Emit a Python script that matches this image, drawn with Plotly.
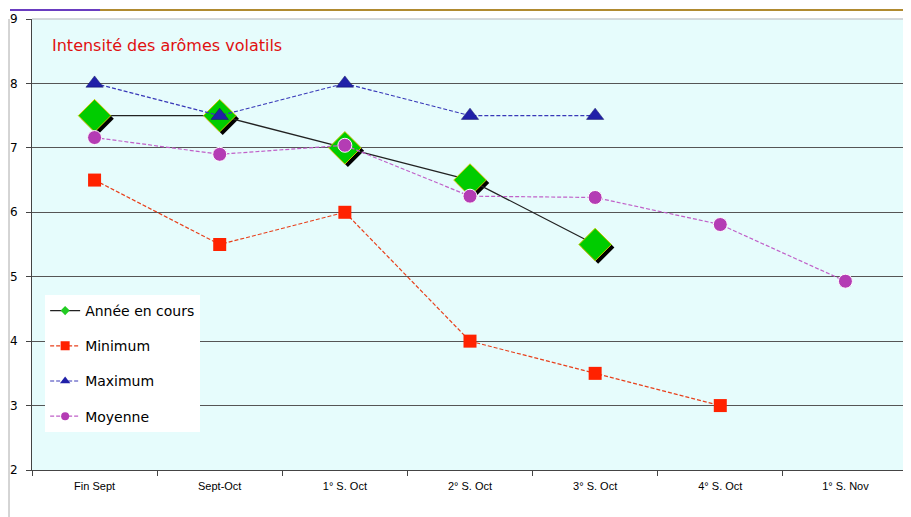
import plotly.graph_objects as go

categories = ["Fin Sept", "Sept-Oct", "1° S. Oct", "2° S. Oct", "3° S. Oct", "4° S. Oct", "1° S. Nov"]
annee = [7.5, 7.5, 7.0, 6.5, 5.5, None, None]
minimum = [6.5, 5.5, 6.0, 4.0, 3.5, 3.0, None]
maximum = [8.0, 7.5, 8.0, 7.5, 7.5, None, None]
moyenne = [7.16, 6.9, 7.04, 6.25, 6.23, 5.81, 4.93]
y_ticks = [2, 3, 4, 5, 6, 7, 8, 9]

OFF = 8  # page body margin
W, H = 911 - OFF, 517 - OFF
L, R, T, B = 32 - OFF, 3, 19 - OFF, 47
pw = W - L - R
ph = H - T - B
xr = [-0.5, 6.5]
yr = [2, 9]
dx = 3 * (xr[1] - xr[0]) / pw
dy = 3 * (yr[1] - yr[0]) / ph
DASH = "4px,2px"

fig = go.Figure()

# shadow of diamonds on base (shifted, hidden) axes -> drawn below overlay traces
fig.add_trace(go.Scatter(
    x=categories, y=annee, mode="markers", xaxis="x", yaxis="y",
    marker=dict(symbol="diamond", size=25, color="black"),
    showlegend=False, hoverinfo="skip"))

common = dict(xaxis="x2", yaxis="y2")

fig.add_trace(go.Scatter(
    x=categories, y=annee, mode="lines+markers", name="Année en cours",
    line=dict(color="#222222", width=1.3),
    marker=dict(symbol="diamond", size=25, color="#00cc00",
                line=dict(color="#c8c800", width=1)),
    showlegend=False, **common))
fig.add_trace(go.Scatter(
    x=categories, y=minimum, mode="lines+markers", name="Minimum",
    line=dict(color="#e8401c", width=1.2, dash=DASH),
    marker=dict(symbol="square", size=13, color="#ff2200"),
    showlegend=False, **common))
fig.add_trace(go.Scatter(
    x=categories, y=maximum, mode="lines+markers", name="Maximum",
    line=dict(color="#3838b8", width=1.2, dash=DASH),
    marker=dict(symbol="triangle-up", size=15, color="#2020a8",
                line=dict(color="#101060", width=0.5)),
    showlegend=False, **common))
fig.add_trace(go.Scatter(
    x=categories, y=moyenne, mode="lines+markers", name="Moyenne",
    line=dict(color="#c060c8", width=1.2, dash=DASH),
    marker=dict(symbol="circle", size=14, color="#b43cb4",
                line=dict(color="white", width=1)),
    showlegend=False, **common))

# legend entries (small markers like the original)
leg = [
    ("Année en cours", "#222222", "solid", "diamond", 7, "#22cc22"),
    ("Minimum", "#e8401c", DASH, "square", 9, "#ff2200"),
    ("Maximum", "#3838b8", DASH, "triangle-up", 9, "#2020a8"),
    ("Moyenne", "#c060c8", DASH, "circle", 8, "#b43cb4"),
]
for i, (nm, lc, ds, sym, sz, mc) in enumerate(leg):
    fig.add_trace(go.Scatter(
        x=[None], y=[None], mode="lines+markers", name=nm, legendgroup=f"g{i}",
        line=dict(color=lc, width=1.2, dash=ds),
        marker=dict(symbol=sym, size=sz, color=mc), **common))

fig.update_layout(
    width=W, height=H,
    margin=dict(l=L, r=R, t=T, b=B),
    paper_bgcolor="white",
    plot_bgcolor="#e6fcfc",
    font=dict(family="DejaVu Sans", size=12, color="black"),
    xaxis=dict(type="category", categoryorder="array", categoryarray=categories,
               range=[xr[0] - dx, xr[1] - dx], visible=False),
    yaxis=dict(range=[yr[0] + dy, yr[1] + dy], visible=False),
    xaxis2=dict(type="category", categoryorder="array", categoryarray=categories,
                overlaying="x", side="bottom",
                range=xr, tickson="boundaries", ticks="outside", ticklen=5,
                tickcolor="#444", showline=True, linecolor="#444", linewidth=1,
                showgrid=False, zeroline=False, ticklabelstandoff=6,
                tickfont=dict(family="Liberation Sans", size=11)),
    yaxis2=dict(overlaying="y", side="left",
                range=yr, tickvals=y_ticks, ticks="outside", ticklen=5,
                tickcolor="#444", showline=True, linecolor="#444", linewidth=1,
                showgrid=True, gridcolor="#555", gridwidth=1, zeroline=False,
                ticklabelstandoff=6,
                tickfont=dict(family="DejaVu Sans", size=12)),
    legend=dict(x=0.015, y=0.388, xanchor="left", yanchor="top",
                bgcolor="white", font=dict(family="DejaVu Sans", size=14),
                tracegroupgap=14, traceorder="grouped"),
    showlegend=True,
)

fig.add_annotation(text="Intensité des arômes volatils", xref="paper", yref="paper",
                   x=0.02, y=0.942, xanchor="left", yanchor="middle", showarrow=False,
                   font=dict(family="DejaVu Sans", size=16, color="#e01010"))

# plot area light border (top/right)
fig.add_shape(type="line", xref="paper", yref="paper", x0=0, x1=1, y0=1, y1=1,
              line=dict(color="#c8cdd0", width=1.5))
fig.add_shape(type="line", xref="paper", yref="paper", x0=1, x1=1, y0=0, y1=1,
              line=dict(color="#c8cdd0", width=1.5))
# outer frame lines (page coordinates converted to paper)
px = lambda x: (x - OFF - L) / pw
py = lambda y: (H - B - (y - OFF)) / ph
fig.add_shape(type="line", xref="paper", yref="paper", x0=px(10), x1=px(100),
              y0=py(10), y1=py(10), line=dict(color="#6a3cc0", width=2))
fig.add_shape(type="line", xref="paper", yref="paper", x0=px(100), x1=px(911),
              y0=py(10), y1=py(10), line=dict(color="#b08a30", width=2))
fig.add_shape(type="line", xref="paper", yref="paper", x0=px(9), x1=px(9),
              y0=py(19), y1=py(517), line=dict(color="#aaaaaa", width=1))

fig.write_html("out.html")
